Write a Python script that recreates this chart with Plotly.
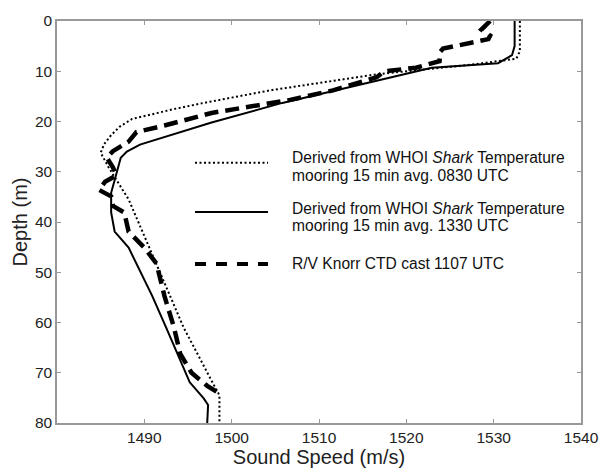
import plotly.graph_objects as go

# ---- data ----
depth_0830 = [0, 3, 6, 7.5, 8.7, 10.6, 13.8, 16.3, 17.6, 19.5, 21.0, 22.7, 24.5, 26.2, 29.1, 35.5, 48.3, 61, 70.6, 74.5, 80]
speed_0830 = [1533.0, 1533.0, 1533.0, 1532.6, 1527.4, 1516.6, 1504.4, 1496.8, 1493.2, 1488.6, 1487.2, 1486.2, 1485.4,
              1485.0, 1485.9, 1488.2, 1491.4, 1494.5, 1497.4, 1498.6, 1498.6]

depth_1330 = [0, 3, 5, 6.8, 8.4, 9.3, 11.9, 16.3, 20.2, 22.7, 24.6, 26.0, 27.2, 30.4, 34.2, 38.1, 41.9, 45.1, 54.7, 61,
              67.4, 71.9, 75.1, 76.4, 80]
speed_1330 = [1532.4, 1532.4, 1532.4, 1532.1, 1530.5, 1522.9, 1516.6, 1505.8, 1497.7, 1493.2, 1489.5, 1488.0, 1487.3,
              1486.8, 1486.2, 1486.2, 1486.6, 1488.2, 1490.9, 1492.5, 1494.1, 1495.2, 1496.8, 1497.3, 1497.2]

depth_ctd = [0, 1.7, 2.9, 3.6, 5.5, 6.1, 8.0, 9.0, 9.3, 10.0, 11.2, 13.8, 15.7, 18.3, 19.2, 20.8, 22.1, 24.0, 25.9,
             27.2, 29.1, 30.7, 32.0, 33.6, 34.9, 36.8, 38.1, 41.9, 45.1, 48.3, 54.7, 61, 66.2, 70, 72.6, 73.8]
speed_ctd = [1529.6, 1528.6, 1529.6, 1529.4, 1524.2, 1523.9, 1523.8, 1522.0, 1521.1, 1517.5, 1516.6, 1511.6,
             1506.7, 1497.7, 1495.9, 1492.3, 1489.1, 1488.2, 1486.4, 1485.7, 1486.4, 1486.8, 1485.5, 1484.8,
             1486.2, 1486.4, 1487.7, 1488.2, 1490.0, 1491.4, 1492.3, 1493.4, 1494.1, 1495.4, 1497.2, 1498.3]

x_ticks = [1490, 1500, 1510, 1520, 1530, 1540]
y_ticks = [0, 10, 20, 30, 40, 50, 60, 70, 80]

legend_labels = [
    ["Derived from WHOI <i>Shark</i> Temperature", "mooring 15 min avg. 0830 UTC"],
    ["Derived from WHOI <i>Shark</i> Temperature", "mooring 15 min avg. 1330 UTC"],
    ["R/V Knorr CTD cast 1107 UTC"],
]

FONT = "Liberation Sans, Arial, sans-serif"

fig = go.Figure()
fig.add_trace(go.Scatter(x=speed_0830, y=depth_0830, mode="lines",
                         line=dict(color="black", width=2, dash="2px,2.5px"), showlegend=False))
fig.add_trace(go.Scatter(x=speed_1330, y=depth_1330, mode="lines",
                         line=dict(color="black", width=2), showlegend=False))
fig.add_trace(go.Scatter(x=speed_ctd, y=depth_ctd, mode="lines",
                         line=dict(color="black", width=4.5, dash="14px,7px"), showlegend=False))

# ---- hand-built legend (paper coordinates) ----
W, H = 615, 473
L, R, T, B = 57, 581, 15, 432
def px(x):
    return (x - L) / (R - L)
def py(y):
    return (B - y) / (B - T)

samples = [
    (162, dict(color="black", width=2, dash="2px,2.5px")),
    (213, dict(color="black", width=2)),
    (267, dict(color="black", width=4, dash="11px,10px")),
]
for yy, ln in samples:
    fig.add_shape(type="line", xref="paper", yref="paper",
                  x0=px(195), x1=px(268), y0=py(yy), y1=py(yy), line=ln)

text_y = [[157, 175], [209, 227], [267]]
for labels, ys in zip(legend_labels, text_y):
    for lab, yy in zip(labels, ys):
        fig.add_annotation(text=lab, xref="paper", yref="paper", x=px(290), y=py(yy),
                           xanchor="left", yanchor="middle", showarrow=False,
                           font=dict(family=FONT, size=15.6, color="#111"))

axis_common = dict(showline=True, linecolor="#999999", linewidth=1.5, mirror="ticks",
                   ticks="inside", ticklen=4, tickcolor="#999999", tickwidth=1,
                   showgrid=False, zeroline=False,
                   tickfont=dict(family=FONT, size=15.5, color="#222"))

fig.update_layout(
    width=W, height=H,
    margin=dict(l=L, r=W - R, t=T, b=H - B),
    paper_bgcolor="white", plot_bgcolor="white",
    xaxis=dict(range=[1480, 1540], tickvals=x_ticks, ticktext=[str(v) for v in x_ticks],
               title=dict(text="Sound Speed (m/s)", font=dict(family=FONT, size=20, color="#222"), standoff=1),
               **axis_common),
    yaxis=dict(range=[80, 0], tickvals=y_ticks, ticktext=[str(v) for v in y_ticks],
               title=dict(text="Depth (m)", font=dict(family=FONT, size=20, color="#222"), standoff=2),
               **axis_common),
)

fig.write_html("out.html")
